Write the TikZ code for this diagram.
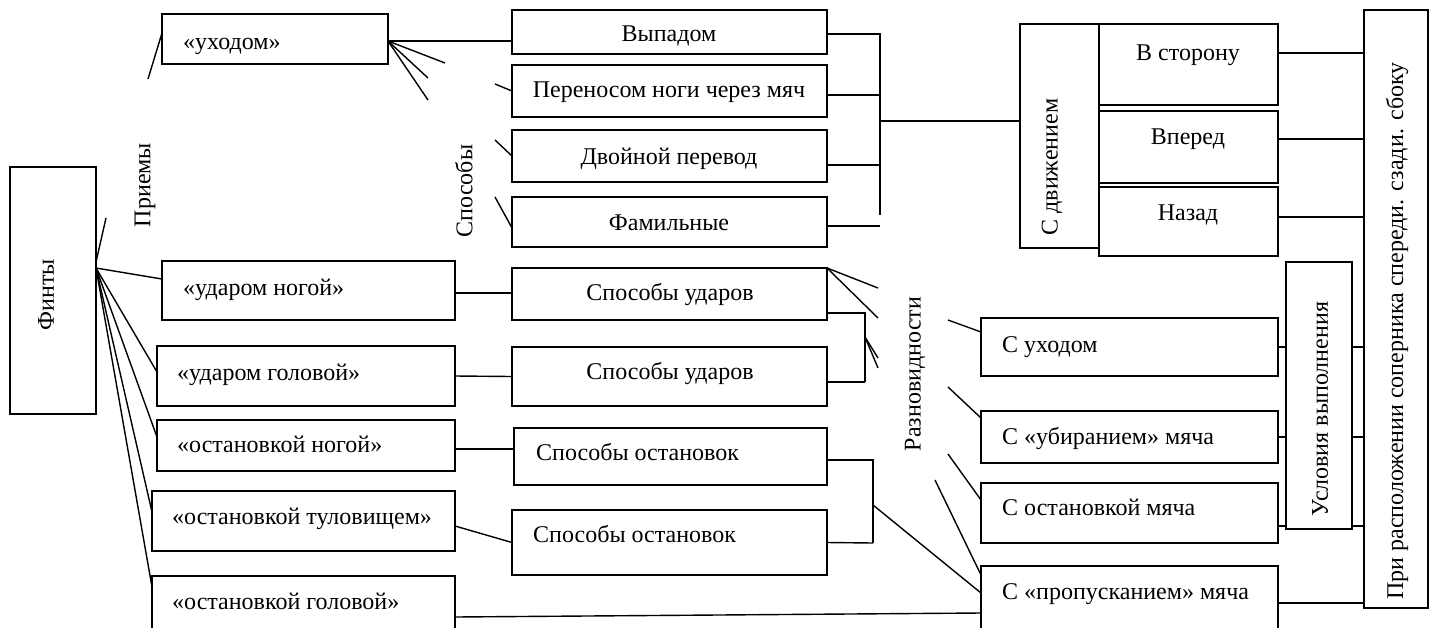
\documentclass[tikz,border=0pt]{standalone}
\usepackage{fontspec}
\setmainfont{Liberation Serif}
\usetikzlibrary{calc}
\tikzset{
  bx/.style={draw, line width=1.8pt, inner sep=0pt, outer sep=0pt, rectangle},
  ln/.style={line width=1.4pt},
  tx/.style={inner sep=0pt, font=\fontsize{24}{28}\selectfont},
  ht/.style={tx, yshift=-5pt},
}
\newcommand\mybox[5]{\node[bx, minimum width={(#4-#2)*1pt}, minimum height={(#5-#3)*1pt}, anchor=north west] (#1) at (#2,#3) {};}
\begin{document}
\begin{tikzpicture}[x=1pt,y=-1pt]
\fill[white] (0,0) rectangle (1437,627);
\useasboundingbox (0,0) rectangle (1437,627);
% boxes
\mybox{fin}{10}{167}{96}{414}
\mybox{uh}{162}{14}{388}{64}
\mybox{un}{162}{261}{455}{320}
\mybox{ug}{157}{346}{455}{406}
\mybox{on}{157}{420}{455}{471}
\mybox{ot}{152}{491}{455}{551}
\mybox{og}{152}{576}{455}{632}
\mybox{vyp}{512}{10}{827}{54}
\mybox{per}{512}{65}{827}{117}
\mybox{dvo}{512}{130}{827}{182}
\mybox{fam}{512}{197}{827}{247}
\mybox{su1}{512}{268}{827}{320}
\mybox{su2}{512}{347}{827}{406}
\mybox{so1}{514}{428}{827}{485}
\mybox{so2}{512}{510}{827}{575}
\mybox{sdv}{1020}{24}{1099}{248}
\mybox{vst}{1099}{24}{1278}{105}
\mybox{vpe}{1099}{111}{1278}{183}
\mybox{naz}{1099}{187}{1278}{256}
\mybox{cuh}{981}{318}{1278}{376}
\mybox{cub}{981}{411}{1278}{463}
\mybox{cos}{981}{483}{1278}{543}
\mybox{cpr}{981}{566}{1278}{632}
\mybox{usl}{1286}{262}{1352}{529}
\mybox{tall}{1364}{10}{1428}{608}
% texts
\node[ht, anchor=mid west] (t-uh) at (183,42) {«уходом»};
\node[ht, anchor=mid] (t-vyp) at (669,34) {Выпадом};
\node[ht, anchor=mid] (t-per) at (669,90) {Переносом ноги через мяч};
\node[ht, anchor=mid] (t-dvo) at (669,157) {Двойной перевод};
\node[ht, anchor=mid] (t-fam) at (669,223) {Фамильные};
\node[ht, anchor=mid] (t-su1) at (670,293) {Способы ударов};
\node[ht, anchor=mid] (t-su2) at (670,372) {Способы ударов};
\node[ht, anchor=mid west] (t-so1) at (536,453) {Способы остановок};
\node[ht, anchor=mid west] (t-so2) at (533,535) {Способы остановок};
\node[ht, anchor=mid west] (t-un) at (183,288) {«ударом ногой»};
\node[ht, anchor=mid west] (t-ug) at (177,373) {«ударом головой»};
\node[ht, anchor=mid west] (t-on) at (177,445) {«остановкой ногой»};
\node[ht, anchor=mid west] (t-ot) at (172,517) {«остановкой туловищем»};
\node[ht, anchor=mid west] (t-og) at (172,602) {«остановкой головой»};
\node[ht, anchor=mid] (t-vst) at (1188,53) {В сторону};
\node[ht, anchor=mid] (t-vpe) at (1188,137) {Вперед};
\node[ht, anchor=mid] (t-naz) at (1188,213) {Назад};
\node[ht, anchor=mid west] (t-cuh) at (1002,345) {С уходом};
\node[ht, anchor=mid west] (t-cub) at (1002,437) {С «убиранием» мяча};
\node[ht, anchor=mid west] (t-cos) at (1002,508) {С остановкой мяча};
\node[ht, anchor=mid west] (t-cpr) at (1002,592) {С «пропусканием» мяча};
\node[tx, rotate=90] (t-fin) at (46,295) {Финты};
\node[tx, rotate=90] (t-pri) at (145,185) {Приемы};
\node[tx, rotate=90] (t-spo) at (464,191) {Способы};
\node[tx, rotate=90] (t-sdv) at (1052,167) {С движением};
\node[tx, rotate=90] (t-raz) at (915,374) {Разновидности};
\node[tx, rotate=90] (t-usl) at (1320,409) {Условия выполнения};
\node[tx, rotate=90] (t-tall) at (1397,331) {При расположении соперника спереди. сзади. сбоку};
% free ends
\coordinate (f1) at (148,79);
\coordinate (f2) at (445,63);
\coordinate (f3) at (428,78);
\coordinate (f4) at (428,100);
\coordinate (f5) at (495,84);
\coordinate (f6) at (495,140);
\coordinate (f7) at (495,197);
\coordinate (f8) at (106,218);
\coordinate (f9) at (878,288);
\coordinate (f10) at (878,318);
\coordinate (f11) at (935,480);
\coordinate (f12) at (948,320);
\coordinate (f13) at (948,387);
\coordinate (f14) at (948,454);
\coordinate (f15) at (878,358);
\coordinate (f16) at (878,368);
\coordinate (b1) at (880,215);
\coordinate (b2) at (865,382);
\coordinate (b3) at (865,337);
\coordinate (b4) at (873,543);
\coordinate (b5) at (873,505);
% connectors, top left
\draw[ln] ([yshift=6pt]uh.west) -- (f1);
\draw[ln] ([yshift=-2pt]uh.east) coordinate (uhE) -- (uhE -| vyp.west);
\draw[ln] (uhE) -- (f2);
\draw[ln] (uhE) -- (f3);
\draw[ln] (uhE) -- (f4);
\draw[ln] (f5) -- (per.west);
\draw[ln] (f6) -- (dvo.west);
\draw[ln] (f7) -- ([yshift=-6pt]fam.west);
% bracket to С движением
\draw[ln] ([yshift=-2pt]vyp.east) -| (b1);
\draw[ln] ([yshift=-4pt]per.east) -- +(53,0);
\draw[ln] ([yshift=-9pt]dvo.east) -- +(53,0);
\draw[ln] ([yshift=-4pt]fam.east) -- +(53,0);
\draw[ln] ([yshift=15pt]sdv.west) -- +(-140,0);
\draw[ln] ([yshift=11.5pt]vst.east) coordinate (pv1) -- (pv1 -| tall.west);
\draw[ln] ([yshift=8pt]vpe.east) coordinate (pv2) -- (pv2 -| tall.west);
\draw[ln] ([yshift=4.5pt]naz.east) coordinate (pv3) -- (pv3 -| tall.west);
% Финты fan
\draw[ln] ([yshift=22.5pt]fin.east) coordinate (fo) -- ([yshift=11.5pt]un.west);
\draw[ln] (fo) -- ([yshift=4pt]ug.west);
\draw[ln] (fo) -- ([yshift=8.5pt]on.west);
\draw[ln] (fo) -- ([yshift=9pt]ot.west);
\draw[ln] (fo) -- ([yshift=17pt]og.west);
\draw[ln] ([yshift=28.5pt]fin.east) -- (f8);
% left column to middle
\draw[ln] ([yshift=-2.5pt]un.east) coordinate (pu1) -- (pu1 -| su1.west);
\draw[ln] (ug.east) -- (su2.west);
\draw[ln] ([yshift=-3.5pt]on.east) coordinate (pu3) -- (pu3 -| so1.west);
\draw[ln] ([yshift=-5pt]ot.east) -- (so2.west);
\draw[ln] ([yshift=-13pt]og.east) -- ([yshift=-14pt]cpr.west);
% Способы ударов bracket
\draw[ln] ([yshift=-19pt]su1.east) -| (b2);
\draw[ln] ([yshift=-5.5pt]su2.east) -- (b2);
\draw[ln] (su1.north east) -- (f9);
\draw[ln] (su1.north east) -- (f10);
\draw[ln] (b3) -- (f15);
\draw[ln] (b3) -- (f16);
% Способы остановок bracket
\draw[ln] ([yshift=-3.5pt]so1.east) -| (b4);
\draw[ln] (so2.east) -- (b4);
\draw[ln] (b5) -- ([yshift=6pt]cpr.west);
\draw[ln] (f11) -- ([yshift=24pt]cpr.west);
\draw[ln] (f12) -- ([yshift=15pt]cuh.west);
\draw[ln] (f13) -- ([yshift=19pt]cub.west);
\draw[ln] (f14) -- ([yshift=13pt]cos.west);
% right side
\draw[ln] (cuh.east) -- (cuh.east -| usl.west);
\draw[ln] (cub.east) -- (cub.east -| usl.west);
\draw[ln] ([yshift=-13pt]cos.east) coordinate (pc3) -- (pc3 -| usl.west);
\draw[ln] (cuh.east -| usl.east) -- (cuh.east -| tall.west);
\draw[ln] (cub.east -| usl.east) -- (cub.east -| tall.west);
\draw[ln] (pc3 -| usl.east) -- (pc3 -| tall.west);
\draw[ln] ([yshift=-4pt]cpr.east) coordinate (pc4) -- (pc4 -| tall.west);
\end{tikzpicture}
\end{document}
